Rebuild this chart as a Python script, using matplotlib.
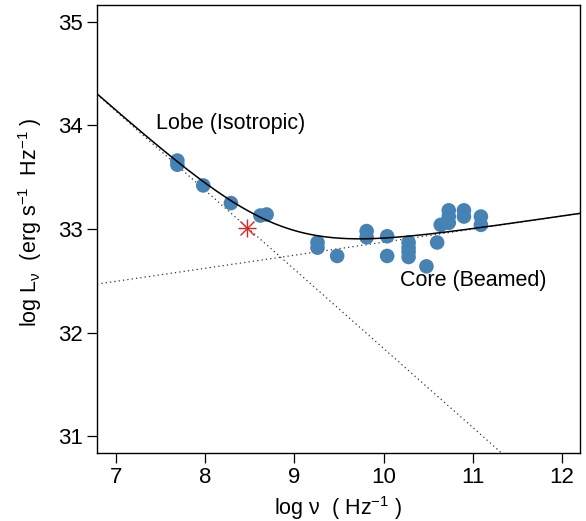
import numpy as np
import matplotlib
matplotlib.use("Agg")
import matplotlib.pyplot as plt

plt.rcParams['font.family'] = ['Liberation Sans', 'DejaVu Sans']
plt.rcParams['mathtext.fontset'] = 'custom'
plt.rcParams['mathtext.rm'] = 'Liberation Sans'
plt.rcParams['mathtext.it'] = 'Liberation Sans'

# Observed points: log nu, log L
lobe_x = [7.69, 7.69, 7.98, 8.29, 8.62, 8.69]
lobe_y = [33.66, 33.62, 33.42, 33.25, 33.13, 33.14]
core_x = [9.26, 9.26, 9.48, 9.81, 9.81, 10.04, 10.04, 10.28, 10.28, 10.28, 10.28,
          10.48, 10.60, 10.64, 10.73, 10.73, 10.73, 10.90, 10.90, 11.09, 11.09]
core_y = [32.87, 32.82, 32.74, 32.98, 32.92, 32.93, 32.74, 32.87, 32.82, 32.78, 32.73,
          32.64, 32.87, 33.04, 33.18, 33.12, 33.06, 33.18, 33.12, 33.12, 33.04]
star_x = [8.47]
star_y = [33.01]

# Model components: log L = a + b * (log nu - 6.8)
lobe_a, lobe_b = 34.29, -0.763
core_a, core_b = 32.47, 0.126

xlim = (6.79, 12.2)
ylim = (30.84, 35.16)

fig = plt.figure(figsize=(5.86, 5.21), dpi=100)
ax = fig.add_axes([97/586, 1-453/521, (580-97)/586, (453-5)/521])

xx = np.linspace(xlim[0], xlim[1], 400)
lobe = lobe_a + lobe_b * (xx - 6.8)
core = core_a + core_b * (xx - 6.8)
total = np.log10(10**(lobe - 30) + 10**(core - 30)) + 30

ax.plot(xx, lobe, color='#333333', lw=0.9, ls=(0, (1, 2.5)), zorder=1)
ax.plot(xx, core, color='#333333', lw=0.9, ls=(0, (1, 2.5)), zorder=1)
ax.plot(xx, total, color='black', lw=1.1, zorder=3)

ax.scatter(lobe_x + core_x, lobe_y + core_y, s=110, color='#4682B4', edgecolors='none', zorder=2)
ax.plot(star_x, star_y, marker='+', ms=13, mew=1.0, color='#D62728', ls='none', zorder=4)
ax.plot(star_x, star_y, marker='x', ms=9.5, mew=1.0, color='#D62728', ls='none', zorder=4)

ax.text(7.45, 34.02, 'Lobe (Isotropic)', fontsize=15.5, ha='left', va='center')
ax.text(10.18, 32.50, 'Core (Beamed)', fontsize=15.5, ha='left', va='center')

ax.set_xlim(*xlim)
ax.set_ylim(*ylim)
ax.set_xticks([7, 8, 9, 10, 11, 12])
ax.set_yticks([31, 32, 33, 34, 35])
ax.tick_params(direction='out', length=7, width=0.9, labelsize=16, pad=3)
for s in ax.spines.values():
    s.set_linewidth(1.0)

ax.set_xlabel(r'log ν  ( Hz$^{-1}$ )', fontsize=15.5)
ax.set_ylabel(r'log L$_{\mathregular{ν}}$  (erg s$^{-1}$  Hz$^{-1}$ )', fontsize=15.5)
ax.xaxis.set_label_coords(0.5, -0.091)
ax.yaxis.set_label_coords(-0.110, 0.516)

fig.savefig('out.png', dpi=100)
